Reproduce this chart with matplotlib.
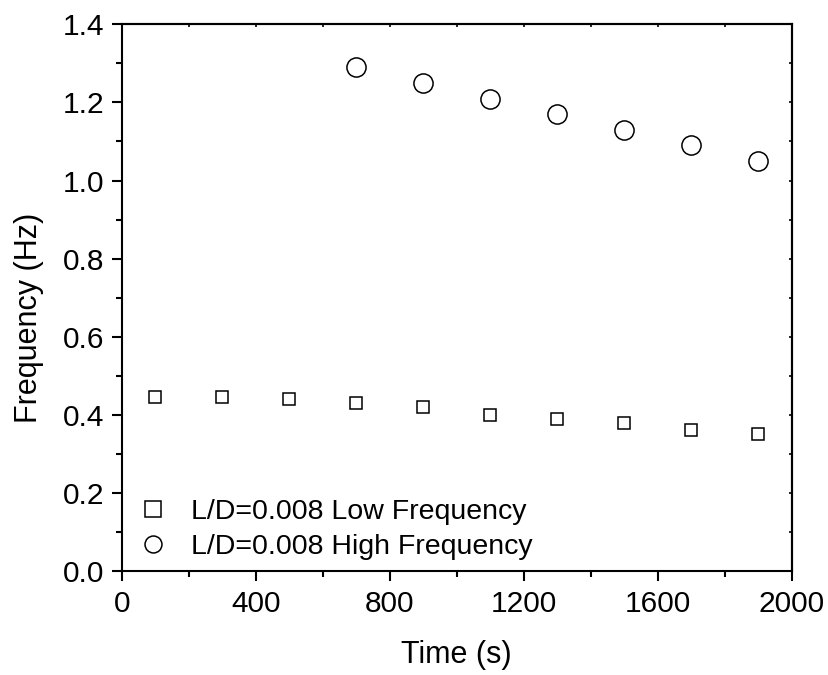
import matplotlib
matplotlib.use("Agg")
import matplotlib.pyplot as plt
from matplotlib.ticker import MultipleLocator

# Data
time_low = [100, 300, 500, 700, 900, 1100, 1300, 1500, 1700, 1900]
freq_low = [0.445, 0.445, 0.44, 0.43, 0.42, 0.40, 0.39, 0.38, 0.36, 0.35]
time_high = [700, 900, 1100, 1300, 1500, 1700, 1900]
freq_high = [1.29, 1.25, 1.21, 1.17, 1.13, 1.09, 1.05]

label_low = "L/D=0.008 Low Frequency"
label_high = "L/D=0.008 High Frequency"

plt.rcParams["font.family"] = ["Liberation Sans", "DejaVu Sans"]

fig = plt.figure(figsize=(8.29, 6.75), dpi=100)
ax = fig.add_axes([0.147, 0.154, 0.808, 0.810])

ax.plot(time_low, freq_low, linestyle="none", marker="s", markersize=9.0,
        markerfacecolor="white", markeredgecolor="black", markeredgewidth=1.1,
        label=label_low)
ax.plot(time_high, freq_high, linestyle="none", marker="o", markersize=13.8,
        markerfacecolor="white", markeredgecolor="black", markeredgewidth=1.1,
        label=label_high)

ax.set_xlim(0, 2000)
ax.set_ylim(0, 1.4)
ax.xaxis.set_major_locator(MultipleLocator(400))
ax.xaxis.set_minor_locator(MultipleLocator(200))
ax.yaxis.set_major_locator(MultipleLocator(0.2))
ax.yaxis.set_minor_locator(MultipleLocator(0.1))
ax.yaxis.set_major_formatter(plt.FuncFormatter(lambda v, p: f"{v:.1f}"))

for s in ax.spines.values():
    s.set_linewidth(1.5)

ax.tick_params(which="major", direction="out", length=7, width=1.5,
               labelsize=21.5)
ax.tick_params(axis="x", which="major", pad=7)
ax.tick_params(axis="y", which="major", pad=5.5)
ax.tick_params(which="minor", direction="out", length=4, width=1.5)

# small inward ticks on top and right
top = ax.secondary_xaxis("top")
top.set_xticks(range(0, 2001, 200))
top.tick_params(direction="in", length=2.5, width=1.2, labeltop=False)
top.spines["top"].set_linewidth(1.5)
right = ax.secondary_yaxis("right")
right.set_yticks([i / 10 for i in range(15)])
right.tick_params(direction="in", length=2.5, width=1.2, labelright=False)
right.spines["right"].set_linewidth(1.5)

ax.set_xlabel("Time (s)", fontsize=22)
ax.xaxis.set_label_coords(0.5, -0.126)
ax.set_ylabel("Frequency (Hz)", fontsize=22)
ax.yaxis.set_label_coords(-0.116, 0.4625)

leg = ax.legend(loc="center left", bbox_to_anchor=(0.0246, 0.076),
                frameon=False, fontsize=20.5, handlelength=1.0,
                handletextpad=0.85, labelspacing=0.33, borderpad=0,
                borderaxespad=0)
leg.legend_handles[0].set_markersize(11.5)
leg.legend_handles[1].set_markersize(12.2)

fig.savefig("out.png", dpi=100)
